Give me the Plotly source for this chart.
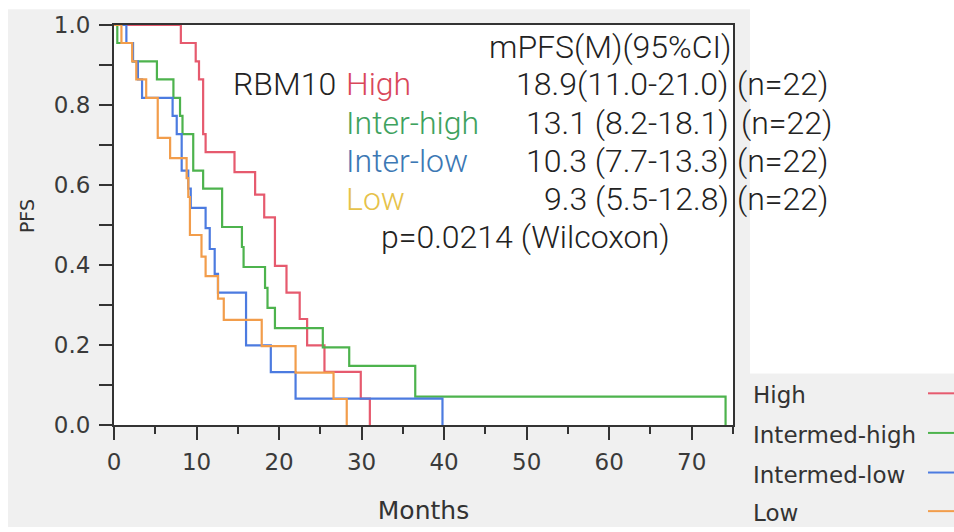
import plotly.graph_objects as go

# Kaplan-Meier step data: event times (months) and survival level after each drop
HIGH_T = [8.1, 9.9, 10.3, 10.8, 11.1, 14.6, 17.1, 18.2, 19.5, 20.9, 22.5, 23.4, 25.5, 29.9, 31.0]
HIGH_S = [0.955, 0.909, 0.864, 0.727, 0.682, 0.632, 0.576, 0.519, 0.398, 0.331, 0.265, 0.199, 0.133, 0.066, 0.0]

INTER_HIGH_T = [0.4, 2.3, 5.2, 7.2, 8.0, 8.3, 9.6, 10.8, 13.1, 15.5, 15.7, 18.3, 18.6, 19.5, 25.3, 28.5, 36.5, 74.1]
INTER_HIGH_S = [0.955, 0.909, 0.864, 0.818, 0.773, 0.727, 0.636, 0.591, 0.495, 0.445, 0.395, 0.343, 0.293, 0.242, 0.194, 0.148, 0.071, 0.0]

INTER_LOW_T = [1.5, 2.3, 2.9, 3.4, 7.1, 7.6, 8.2, 9.0, 9.3, 11.1, 11.6, 12.2, 12.6, 16.0, 19.0, 22.0, 39.8]
INTER_LOW_S = [0.955, 0.909, 0.864, 0.818, 0.773, 0.727, 0.636, 0.591, 0.543, 0.492, 0.440, 0.378, 0.331, 0.199, 0.132, 0.066, 0.0]

LOW_T = [0.9, 2.2, 2.7, 3.9, 5.3, 6.8, 8.8, 9.0, 9.2, 10.6, 11.1, 12.6, 13.3, 17.9, 22.0, 26.6, 28.2]
LOW_S = [0.955, 0.909, 0.864, 0.818, 0.718, 0.667, 0.617, 0.570, 0.475, 0.421, 0.372, 0.316, 0.263, 0.197, 0.131, 0.065, 0.0]

GROUPS = ["High", "Intermed-high", "Intermed-low", "Low"]
SHORT_NAMES = ["High", "Inter-high", "Inter-low", "Low"]
MEDIAN_TEXT = ["18.9(11.0-21.0)", "13.1 (8.2-18.1)", "10.3 (7.7-13.3)", "9.3 (5.5-12.8)"]
N_TEXT = ["(n=22)", "(n=22)", "(n=22)", "(n=22)"]
P_TEXT = "p=0.0214 (Wilcoxon)"

X_TICKS = [0, 10, 20, 30, 40, 50, 60, 70]
Y_TICKS = [0.0, 0.2, 0.4, 0.6, 0.8, 1.0]

LINE_COLORS = ["#e65a6e", "#4db34d", "#4c7be0", "#f29d4b"]
TEXT_COLORS = ["#d9475a", "#3ea25e", "#3c78b4", "#e6c24a"]

W, H = 954, 532
L, R, T, B = 114, 733, 23, 427  # plot area in pixels


def px(x):
    return (x - L) / (R - L)


def py(y):
    return (B - y) / (B - T)


fig = go.Figure()
series = [(HIGH_T, HIGH_S), (INTER_HIGH_T, INTER_HIGH_S), (INTER_LOW_T, INTER_LOW_S), (LOW_T, LOW_S)]
for name, (t, s), col in zip(GROUPS, series, LINE_COLORS):
    fig.add_trace(go.Scatter(
        x=[0] + t, y=[1.0] + s, mode="lines", name=name,
        line=dict(color=col, width=2.2, shape="hv"), showlegend=False,
    ))

GRAY = "#f0f0f0"
shapes = [
    # white margins around the gray canvas
    dict(type="rect", xref="paper", yref="paper", x0=px(-5), x1=px(8), y0=py(540), y1=py(-5),
         fillcolor="white", line_width=0, layer="below"),
    dict(type="rect", xref="paper", yref="paper", x0=px(-5), x1=px(960), y0=py(7), y1=py(-5),
         fillcolor="white", line_width=0, layer="below"),
    dict(type="rect", xref="paper", yref="paper", x0=px(-5), x1=px(960), y0=py(540), y1=py(530),
         fillcolor="white", line_width=0, layer="below"),
    dict(type="rect", xref="paper", yref="paper", x0=px(750), x1=px(960), y0=py(375), y1=py(-5),
         fillcolor="white", line_width=0, layer="below"),
]

annotations = []
# legend on the right: label text with a short line sample
leg_y = [397, 437, 477, 516]
for name, col, yy in zip(GROUPS, LINE_COLORS, leg_y):
    annotations.append(dict(text=name, xref="paper", yref="paper", x=px(751), y=py(yy),
                            xanchor="left", yanchor="middle", showarrow=False,
                            font=dict(family="DejaVu Sans", size=23, color="#333333")))
    shapes.append(dict(type="line", xref="paper", yref="paper", x0=px(928), x1=px(956),
                       y0=py(yy - 2), y1=py(yy - 2), line=dict(color=col, width=2)))

TFONT = "Roboto"
TSIZE = 32
BLACK = "#222222"


def note(text, x, y, anchor, color=BLACK):
    annotations.append(dict(text=text, xref="paper", yref="paper", x=px(x), y=py(y),
                            xanchor=anchor, yanchor="middle", showarrow=False,
                            font=dict(family=TFONT, size=TSIZE, color=color, weight=300)))


note("mPFS(M)(95%CI)", 734, 45, "right")
note("RBM10", 231, 83, "left")
row_y = [83, 121.5, 160, 198.5]
n_x = [735, 739, 735, 735]
for lab, med, nt, col, yy, nx in zip(SHORT_NAMES, MEDIAN_TEXT, N_TEXT, TEXT_COLORS, row_y, n_x):
    note(lab, 344, yy, "left", col)
    note(med, 731, yy, "right")
    note(nt, nx, yy, "left")
note(P_TEXT, 525, 237, "center")

# y-axis title placed beside the axis
annotations.append(dict(text="PFS", xref="paper", yref="paper", x=px(27), y=py(216),
                        xanchor="center", yanchor="middle", textangle=-90, showarrow=False,
                        font=dict(family="DejaVu Sans", size=19, color="#333333")))

AX_FONT = dict(family="DejaVu Sans", size=23, color="#3a3a3a")
fig.update_layout(
    width=W, height=H, autosize=False,
    margin=dict(l=L, r=W - R, t=T, b=H - B, pad=0),
    paper_bgcolor=GRAY, plot_bgcolor="white",
    shapes=shapes, annotations=annotations,
    xaxis=dict(
        range=[0, 75], tickvals=X_TICKS, ticktext=[str(v) for v in X_TICKS],
        ticks="outside", ticklen=13, tickwidth=2, tickcolor="#333333",
        showline=True, linewidth=2, linecolor="#333333", mirror=True,
        showgrid=False, zeroline=False, tickfont=AX_FONT, ticklabelstandoff=2,
        minor=dict(dtick=5, tick0=0, ticks="outside", ticklen=7, tickwidth=2, tickcolor="#333333", showgrid=False),
        title=dict(text="Months", font=dict(family="DejaVu Sans", size=25, color="#333333"), standoff=28),
    ),
    yaxis=dict(
        range=[0, 1.0], tickvals=Y_TICKS, ticktext=[f"{v:.1f}" for v in Y_TICKS],
        ticks="outside", ticklen=13, tickwidth=2, tickcolor="#333333",
        showline=True, linewidth=2, linecolor="#333333", mirror=True,
        showgrid=False, zeroline=False, tickfont=AX_FONT, ticklabelstandoff=4,
        minor=dict(dtick=0.1, tick0=0, ticks="outside", ticklen=13, tickwidth=2, tickcolor="#333333", showgrid=False),
    ),
)

fig.write_html("out.html")
